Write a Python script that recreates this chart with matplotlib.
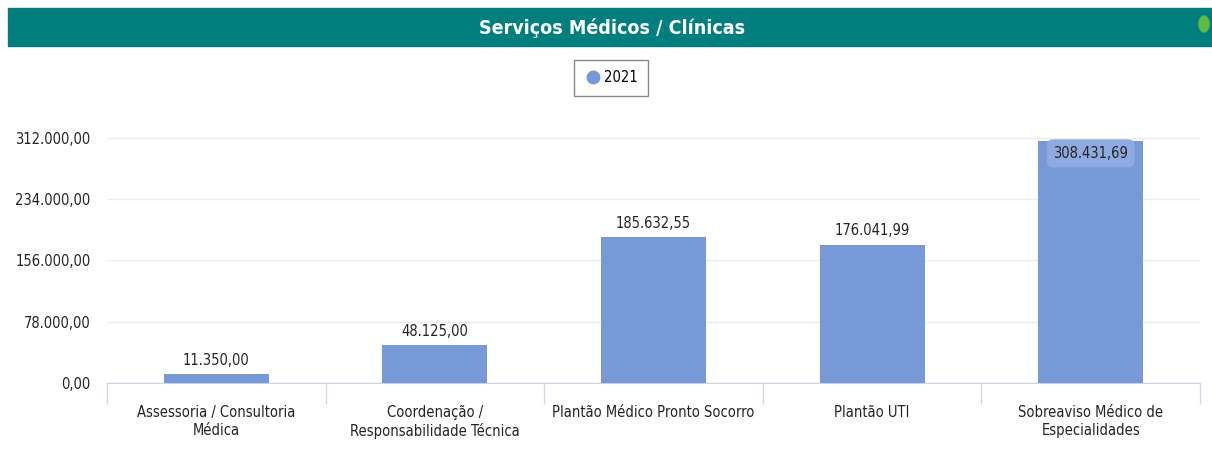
import matplotlib
matplotlib.use("Agg")
import matplotlib.pyplot as plt
from matplotlib.patches import Rectangle, Ellipse
from matplotlib.lines import Line2D
import numpy as np

plt.rcParams.update({"font.family": ["DejaVu Sans"], "font.stretch": "condensed", "font.size": 10.5})

categorias = ["Assessoria / Consultoria\nMédica", "Coordenação /\nResponsabilidade Técnica",
              "Plantão Médico Pronto Socorro", "Plantão UTI", "Sobreaviso Médico de\nEspecialidades"]
valores_2021 = [11350.00, 48125.00, 185632.55, 176041.99, 308431.69]
yticks = [0, 78000, 156000, 234000, 312000]

C_BAR = "#7799D7"; C_TEAL = "#007F7E"

def br(x): return f"{x:,.2f}".replace(",", "§").replace(".", ",").replace("§", ".")

fig = plt.figure(figsize=(12.12, 4.66), dpi=100)
fig.patches.append(Rectangle((8/1212, 1-46/466), 1, 38/466, transform=fig.transFigure, color=C_TEAL, zorder=0))
fig.text(612/1212, 1-28/466, "Serviços Médicos / Clínicas", ha="center", va="center", color="white",
         fontsize=14, fontweight="bold")
fig.patches.append(Ellipse((1204/1212, 1-24/466), 10/1212, 16/466, transform=fig.transFigure, color="#5DBB46"))

ax = fig.add_axes([107/1212, 83/466, (1200-107)/1212, 267/466])
x = np.arange(len(categorias))
ax.bar(x, valores_2021, width=0.48, color=C_BAR, label="2021", zorder=3)
ax.set_xlim(-0.5, len(categorias)-0.5); ax.set_ylim(0, 340000)
ax.set_yticks(yticks); ax.set_yticklabels([br(v) for v in yticks], color="#252423", fontsize=10.5)
ax.set_xticks(x); ax.set_xticklabels(categorias, color="#252423", fontsize=10.5)
ax.set_xticks(np.arange(len(categorias)+1)-0.5, minor=True)
ax.tick_params(axis="x", which="major", length=0, pad=16)
ax.tick_params(axis="x", which="minor", length=15, color="#D0D8E8", width=1)
ax.tick_params(axis="y", length=0, pad=12)
for s in ["top", "right", "left"]: ax.spines[s].set_visible(False)
ax.spines["bottom"].set_color("#C9D3E6")
ax.grid(axis="y", color="#EDEDED", lw=1, zorder=0)

for i, v in enumerate(valores_2021):
    if v > 290000:
        ax.text(x[i], v - 6500, br(v), ha="center", va="top", fontsize=10.5, color="#252423",
                bbox=dict(boxstyle="round,pad=0.45", fc="#8FAAE0", ec="none"), zorder=4)
    else:
        ax.text(x[i], v + 8000, br(v), ha="center", va="bottom", fontsize=10.5, color="#252423", zorder=4)

h = [Line2D([], [], marker="o", ls="", color=C_BAR, markersize=9)]
fig.legend(h, ["2021"], loc="center", bbox_to_anchor=(611/1212, 1-78/466), fontsize=10.5,
           handletextpad=0.2, borderpad=0.7, handlelength=1.2, fancybox=False, edgecolor="#888888", framealpha=1)

fig.savefig("out.png", dpi=100, facecolor="white")
